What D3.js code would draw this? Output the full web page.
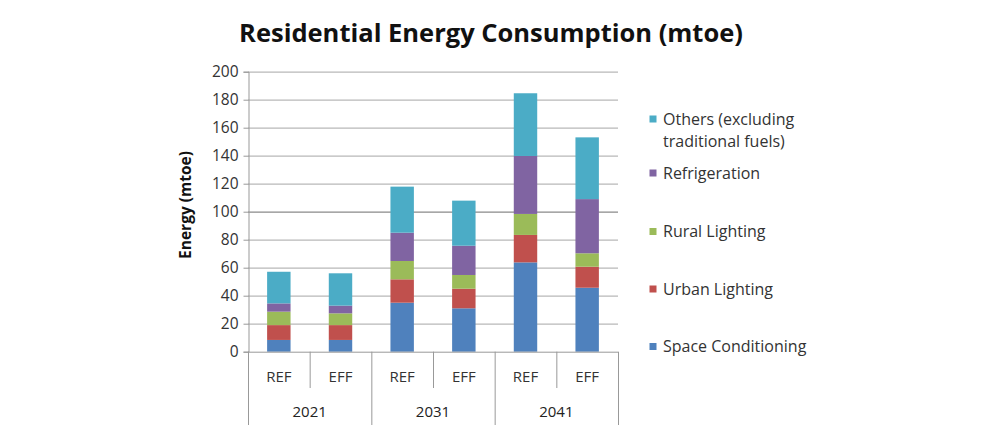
<!DOCTYPE html>
<html><head><meta charset="utf-8">
<script src="https://cdn.jsdelivr.net/npm/d3@7"></script>
<style>body{margin:0;background:#fff}svg{display:block}text{font-family:"Open Sans",sans-serif}</style>
</head><body><svg id="c" width="1000" height="430"></svg>
<script>
const years = ["2021","2031","2041"];
const scenarios = ["REF","EFF"];
const seriesNames = ["Space Conditioning","Urban Lighting","Rural Lighting","Refrigeration","Others (excluding traditional fuels)"];
const colors = ["#4F81BD","#C0504D","#9BBB59","#8064A2","#4BACC6"];
// values per bar in order: 2021 REF, 2021 EFF, 2031 REF, 2031 EFF, 2041 REF, 2041 EFF
const spaceConditioning = [8.4, 8.4, 35, 31, 63.8, 45.7];
const urbanLighting     = [10.6, 10.6, 16.7, 14, 19.6, 15];
const ruralLighting     = [9.6, 8.4, 13.1, 9.8, 15, 9.6];
const refrigeration     = [5.9, 5.5, 20.2, 20.9, 41.4, 38.7];
const others            = [22.6, 23.1, 32.9, 32.2, 44.8, 44.1];
const yTicks = [0,20,40,60,80,100,120,140,160,180,200];

const seriesVals = [spaceConditioning, urbanLighting, ruralLighting, refrigeration, others];
const cats = [];
years.forEach(y => scenarios.forEach(s => cats.push({year:y, sc:s, key:y+"-"+s})));
const rows = cats.map((c,i) => { const r = {key:c.key}; seriesNames.forEach((n,j)=> r[n]=seriesVals[j][i]); return r; });

const svg = d3.select("#c");
const L=248, R=618, T=71.7, B=351.7;
const x = d3.scaleBand().domain(cats.map(c=>c.key)).range([L,R]).paddingInner(0.62).paddingOuter(0.31);
const xb = d3.scaleBand().domain(cats.map(c=>c.key)).range([L,R]);
const y = d3.scaleLinear().domain([0,200]).range([B,T]);

// gridlines
svg.append("g").selectAll("line").data(yTicks.filter(d=>d>0)).join("line")
  .attr("x1",L).attr("x2",R).attr("y1",d=>y(d)+0.5).attr("y2",d=>y(d)+0.5)
  .attr("stroke",d=>d===100?"#8a8a8a":"#b8b8b8").attr("stroke-width",1.2);

// bars
const stack = d3.stack().keys(seriesNames)(rows);
svg.append("g").selectAll("g").data(stack).join("g").attr("fill",(d,i)=>colors[i])
  .selectAll("rect").data(d=>d).join("rect")
  .attr("x",d=>x(d.data.key)).attr("width",x.bandwidth())
  .attr("y",d=>y(d[1])).attr("height",d=>y(d[0])-y(d[1]));

// y axis
const ya = svg.append("g").attr("transform",`translate(${L+0.5},0)`)
  .call(d3.axisLeft(y).tickValues(yTicks).tickSize(5).tickPadding(5));
ya.select(".domain").attr("stroke","#999");
ya.selectAll(".tick line").attr("stroke","#999");
ya.selectAll("text").attr("font-size",15.5).attr("fill","#333");

// x axis line
svg.append("line").attr("x1",L).attr("x2",R).attr("y1",B+0.5).attr("y2",B+0.5).attr("stroke","#999");
// inner separators
cats.forEach((c,i)=>{
  if(i%2===1){
    const xx = xb(c.key)+0.5;
    svg.append("line").attr("x1",xx).attr("x2",xx).attr("y1",B).attr("y2",388).attr("stroke","#999");
  }
});
// group separators
const groupEdges = [L].concat(years.map(yv=>xb(yv+"-EFF")+xb.bandwidth()));
groupEdges.forEach(e=>{
  svg.append("line").attr("x1",e+0.5).attr("x2",e+0.5).attr("y1",B).attr("y2",425).attr("stroke","#999");
});
// scenario labels
svg.append("g").selectAll("text").data(cats).join("text")
  .attr("x",d=>xb(d.key)+xb.bandwidth()/2).attr("y",377).attr("dy","0.35em")
  .attr("text-anchor","middle").attr("font-size",15).attr("fill","#333").text(d=>d.sc);
// year labels
svg.append("g").selectAll("text").data(years).join("text")
  .attr("x",d=>xb(d+"-REF")+xb.bandwidth()).attr("y",412).attr("dy","0.35em")
  .attr("text-anchor","middle").attr("font-size",15).attr("fill","#222").text(d=>d);

// title
svg.append("text").attr("x",491).attr("y",33).attr("dy","0.35em").attr("text-anchor","middle")
  .attr("font-size",25.5).attr("font-weight","bold").attr("fill","#111").text("Residential Energy Consumption (mtoe)");
// y label
svg.append("text").attr("transform","translate(186,205) rotate(-90)").attr("dy","0.35em").attr("text-anchor","middle")
  .attr("font-size",15.5).attr("font-weight","bold").attr("fill","#111").text("Energy (mtoe)");

// legend
const legendItems = [
  {i:4, lines:["Others (excluding","traditional fuels)"], y:119},
  {i:3, lines:["Refrigeration"], y:173},
  {i:2, lines:["Rural Lighting"], y:231.5},
  {i:1, lines:["Urban Lighting"], y:289},
  {i:0, lines:["Space Conditioning"], y:346.5}
];
const lg = svg.append("g").selectAll("g").data(legendItems).join("g");
lg.append("rect").attr("x",649.5).attr("y",d=>d.y-3.5).attr("width",7).attr("height",7).attr("fill",d=>colors[d.i]);
lg.each(function(d){
  d.lines.forEach((t,k)=>{
    d3.select(this).append("text").attr("x",663).attr("y",d.y+k*22).attr("dy","0.35em")
      .attr("font-size",16).attr("fill","#333").text(t);
  });
});
</script></body></html>
